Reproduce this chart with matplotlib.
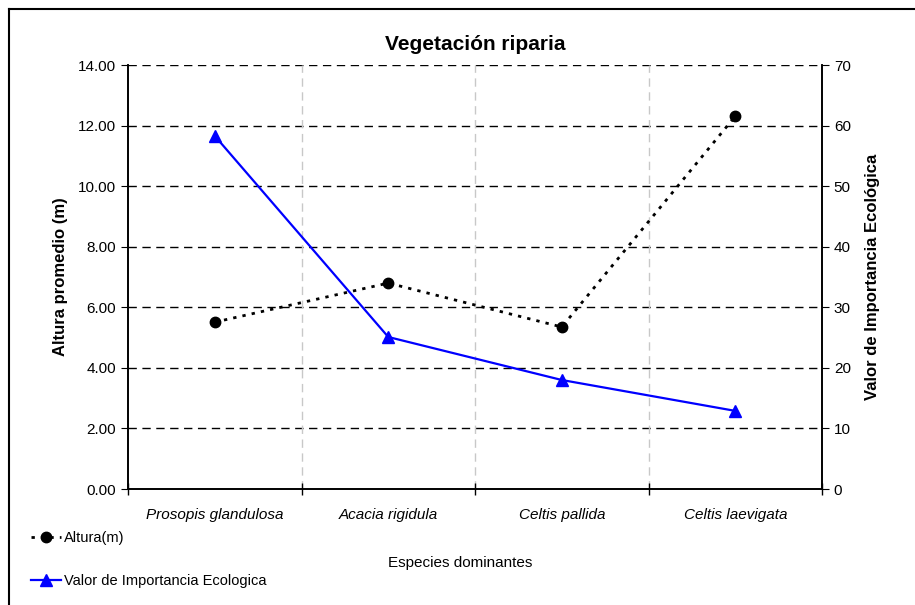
import matplotlib.pyplot as plt
from matplotlib.lines import Line2D

plt.rcParams['font.family'] = ['Liberation Sans', 'DejaVu Sans']

especies = ["Prosopis glandulosa", "Acacia rigidula", "Celtis pallida", "Celtis laevigata"]
altura = [5.51, 6.80, 5.35, 12.31]
vie = [58.3, 25.1, 18.0, 12.9]

fig = plt.figure(figsize=(9.15, 6.05), dpi=100)
ax = fig.add_axes([0.1399, 0.1917, 0.7585, 0.7008])
ax2 = ax.twinx()

x = [i + 0.5 for i in range(len(especies))]

# altura en el eje izquierdo
l1, = ax.plot(x, altura, color="black", lw=2, linestyle=(0, (1.2, 2.2)),
              marker="o", markersize=7.5, label="Altura(m)", zorder=3)
# valor de importancia en el eje derecho
l2, = ax2.plot(x, vie, color="#0000ff", lw=1.6, marker="^", markersize=8.5,
               label="Valor de Importancia Ecologica", zorder=3)

ax.set_xlim(0, 4)
ax.set_ylim(0, 14)
ax2.set_ylim(0, 70)
ax.set_yticks([0, 2, 4, 6, 8, 10, 12, 14])
ax.set_yticklabels(["%.2f" % v for v in ax.get_yticks()])
ax2.set_yticks(range(0, 71, 10))

# lineas de cuadricula
for v in range(2, 15, 2):
    ax.axhline(v, color="black", lw=1, linestyle=(0, (6, 4)), zorder=1)
for v in [1, 2, 3]:
    ax.axvline(v, color="#c8c8c8", lw=1, linestyle=(0, (6, 4)), zorder=1)

ax.set_xticks([0, 1, 2, 3, 4])
ax.set_xticklabels([])
ax.set_xticks(x, minor=True)
ax.set_xticklabels(especies, minor=True, style="italic", fontsize=11)
ax.tick_params(axis="x", which="major", direction="inout", length=8, width=1)
ax.tick_params(axis="x", which="minor", length=0, pad=14)
ax.tick_params(axis="y", direction="out", length=5, labelsize=11)
ax2.tick_params(axis="y", direction="out", length=5, labelsize=11)

for a in (ax, ax2):
    a.spines["top"].set_visible(False)
    a.spines["left"].set_linewidth(1.2)
    a.spines["right"].set_linewidth(1.2)
    a.spines["bottom"].set_linewidth(1.2)

ax.set_ylabel("Altura promedio (m)", fontsize=12, fontweight="bold", labelpad=7)
ax2.set_ylabel("Valor de Importancia Ecológica", fontsize=12, fontweight="bold",
               rotation=90, labelpad=10)
ax.set_title("Vegetación riparia", fontsize=15, fontweight="bold", pad=11)

fig.text(0.503, 1 - 563 / 605, "Especies dominantes", ha="center", va="center", fontsize=11)

fig.legend(handles=[l1, l2], loc="upper left", bbox_to_anchor=(0.028, 1 - 525 / 605),
           frameon=False, fontsize=10.5, labelspacing=2.0, handlelength=2.0,
           handletextpad=0.2, borderaxespad=0)

# marco de la figura
fig.add_artist(Line2D([9 / 915, 1], [1 - 9 / 605, 1 - 9 / 605], color="black", lw=1.5,
                      transform=fig.transFigure))
fig.add_artist(Line2D([9 / 915, 9 / 915], [0, 1 - 9 / 605], color="black", lw=1.5,
                      transform=fig.transFigure))

fig.savefig("out.png", dpi=100)
